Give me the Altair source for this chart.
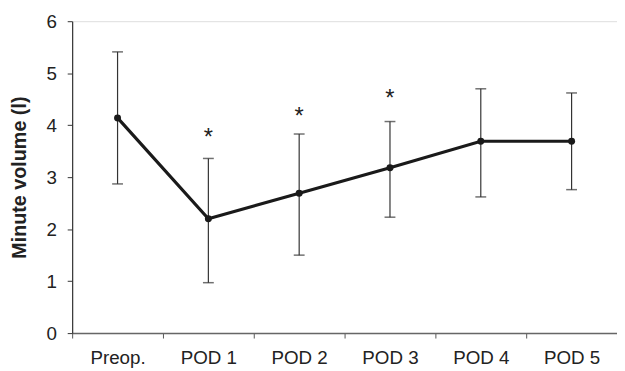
import altair as alt
import pandas as pd

categories = ["Preop.", "POD 1", "POD 2", "POD 3", "POD 4", "POD 5"]
means = [4.14, 2.20, 2.69, 3.18, 3.69, 3.69]
upper = [5.41, 3.36, 3.83, 4.07, 4.70, 4.62]
lower = [2.87, 0.97, 1.50, 2.23, 2.62, 2.76]
star_cats = ["POD 1", "POD 2", "POD 3"]
star_heights = [3.75, 4.15, 4.50]

df = pd.DataFrame({"cat": categories, "mean": means, "hi": upper, "lo": lower})
stars = pd.DataFrame({"cat": star_cats, "y": star_heights, "label": ["*"] * len(star_cats)})

FONT = "Liberation Sans"

x = alt.X(
    "cat:N",
    sort=categories,
    scale=alt.Scale(paddingInner=0, paddingOuter=0),
    axis=alt.Axis(
        title=None,
        labelAngle=0,
        tickBand="extent",
        labelFontSize=19,
        labelFont=FONT,
        labelColor="#222222",
        labelPadding=11,
        tickSize=5,
        tickColor="#555555",
        domainColor="#666666",
        domainWidth=1.5,
        grid=False,
    ),
)
y_scale = alt.Scale(domain=[0, 6], nice=False)
y_axis = alt.Axis(
    title="Minute volume (l)",
    titleFontSize=20,
    titleFont=FONT,
    titleFontWeight="bold",
    titleColor="#222222",
    titlePadding=17,
    values=[0, 1, 2, 3, 4, 5, 6],
    labelFontSize=19,
    labelFont=FONT,
    labelColor="#222222",
    labelPadding=11,
    tickSize=5,
    tickColor="#333333",
    domainColor="#333333",
    domainWidth=1.2,
    grid=False,
)

base = alt.Chart(df)

errbars = base.mark_rule(color="#333333", strokeWidth=1.2).encode(
    x=x,
    y=alt.Y("lo:Q", scale=y_scale, axis=y_axis),
    y2="hi:Q",
)
caps_hi = base.mark_tick(color="#333333", thickness=1.5, size=11, orient="horizontal").encode(
    x=x, y=alt.Y("hi:Q", scale=y_scale)
)
caps_lo = base.mark_tick(color="#333333", thickness=1.5, size=11, orient="horizontal").encode(
    x=x, y=alt.Y("lo:Q", scale=y_scale)
)
line = base.mark_line(color="#1a1a1a", strokeWidth=3.2).encode(
    x=x, y=alt.Y("mean:Q", scale=y_scale)
)
points = base.mark_point(filled=True, color="#1a1a1a", size=50, opacity=1).encode(
    x=x, y=alt.Y("mean:Q", scale=y_scale)
)
star_text = alt.Chart(stars).mark_text(
    font=FONT, fontSize=24, color="#222222", baseline="middle", align="center"
).encode(
    x=alt.X("cat:N", sort=categories),
    y=alt.Y("y:Q", scale=y_scale),
    text="label:N",
)

chart = (
    alt.layer(errbars, caps_hi, caps_lo, line, points, star_text)
    .properties(
        width=552,
        height=316,
        autosize=alt.AutoSizeParams(type="none"),
        padding={"left": 65, "top": 11, "right": 0, "bottom": 36},
    )
    .configure_view(stroke=None)
    .configure(background="white")
)

chart.save("out.html", embed_options={"renderer": "svg", "actions": False})
